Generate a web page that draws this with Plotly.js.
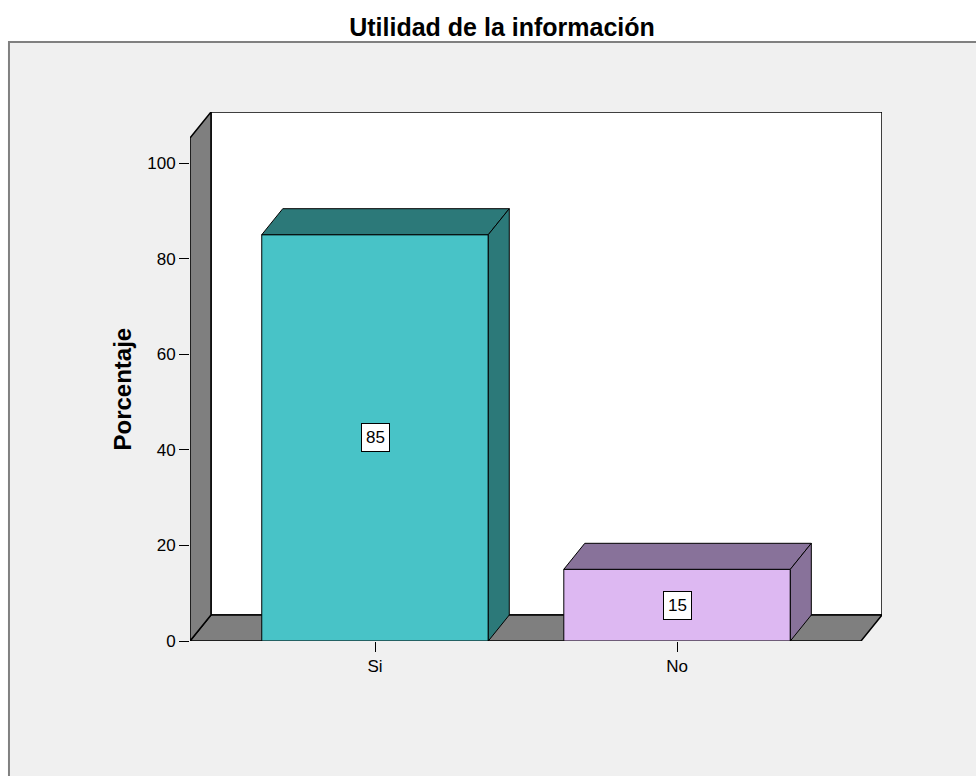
<!DOCTYPE html>
<html>
<head>
<meta charset="utf-8">
<script src="https://cdn.plot.ly/plotly-3.0.1.min.js"></script>
<style>
  html, body { margin: 0; padding: 0; background: #ffffff; }
  #chart { width: 976px; height: 776px; }
</style>
</head>
<body>
<div id="chart"></div>
<script>
// Categories and their percentages
const categories = ['Si', 'No'];
const porcentajes = [85, 15];
const yTickValues = [0, 20, 40, 60, 80, 100];

// Face colours per bar: front face and the darker top / side faces
const frontColors = ['#48c3c7', '#ddb8f2'];
const shadeColors = ['#2c7979', '#88729a'];

// Pseudo-3D depth, in axis units
const DEPTH_X = 0.0695;
const DEPTH_Y = 5.44;
const BAR_WIDTH = 0.75;
const X_LEFT = -0.6126;
const X_FLOOR_RIGHT = 1.609;
const WALL_TOP = 105.23;

const FONT = 'Liberation Sans, Arial, sans-serif';
const xIdx = categories.map((_, i) => i);

function poly(pts) {
  return 'M' + pts.map(p => p[0] + ',' + p[1]).join('L') + 'Z';
}

const shapes = [];

// grey chart frame
shapes.push({
  type: 'rect', xref: 'paper', yref: 'paper', layer: 'below',
  x0: -0.2616, x1: 1.2, y0: -0.3, y1: 1.1323,
  fillcolor: '#f0f0f0', line: {color: '#808080', width: 2}
});

// back wall
shapes.push({
  type: 'path', xref: 'x', yref: 'y', layer: 'below',
  path: poly([[X_LEFT + DEPTH_X, DEPTH_Y], [X_FLOOR_RIGHT + DEPTH_X, DEPTH_Y],
              [X_FLOOR_RIGHT + DEPTH_X, WALL_TOP + DEPTH_Y], [X_LEFT + DEPTH_X, WALL_TOP + DEPTH_Y]]),
  fillcolor: '#ffffff', line: {color: '#000000', width: 1.5}
});
// floor
shapes.push({
  type: 'path', xref: 'x', yref: 'y', layer: 'below',
  path: poly([[X_LEFT, 0], [X_FLOOR_RIGHT, 0],
              [X_FLOOR_RIGHT + DEPTH_X, DEPTH_Y], [X_LEFT + DEPTH_X, DEPTH_Y]]),
  fillcolor: '#7f7f7f', line: {color: '#000000', width: 1.5}
});
// left wall
shapes.push({
  type: 'path', xref: 'x', yref: 'y', layer: 'below',
  path: poly([[X_LEFT, 0], [X_LEFT, WALL_TOP],
              [X_LEFT + DEPTH_X, WALL_TOP + DEPTH_Y], [X_LEFT + DEPTH_X, DEPTH_Y]]),
  fillcolor: '#7f7f7f', line: {color: '#000000', width: 1.5}
});

// top and side faces of each bar
porcentajes.forEach((v, i) => {
  const l = xIdx[i] - BAR_WIDTH / 2;
  const r = xIdx[i] + BAR_WIDTH / 2;
  shapes.push({
    type: 'path', xref: 'x', yref: 'y',
    path: poly([[l, v], [r, v], [r + DEPTH_X, v + DEPTH_Y], [l + DEPTH_X, v + DEPTH_Y]]),
    fillcolor: shadeColors[i], line: {color: '#000000', width: 1}
  });
  shapes.push({
    type: 'path', xref: 'x', yref: 'y',
    path: poly([[r, 0], [r, v], [r + DEPTH_X, v + DEPTH_Y], [r + DEPTH_X, DEPTH_Y]]),
    fillcolor: shadeColors[i], line: {color: '#000000', width: 1}
  });
});

const annotations = porcentajes.map((v, i) => ({
  x: xIdx[i], y: v / 2, xref: 'x', yref: 'y',
  text: String(v), showarrow: false,
  bgcolor: '#ffffff', bordercolor: '#000000', borderwidth: 1, borderpad: 4,
  font: {family: FONT, size: 17, color: '#000000'}
}));

annotations.push({
  xref: 'paper', x: 0, xshift: -68, xanchor: 'center',
  yref: 'y', y: WALL_TOP / 2, yanchor: 'middle',
  text: 'Porcentaje', textangle: -90, showarrow: false,
  font: {family: FONT, size: 24, color: '#000000', weight: 'bold'}
});

const data = [{
  type: 'bar',
  x: xIdx,
  y: porcentajes,
  width: BAR_WIDTH,
  marker: {color: frontColors, line: {color: '#000000', width: 1}},
  hoverinfo: 'none'
}];

const layout = {
  width: 976, height: 776,
  margin: {l: 190, r: 94, t: 112, b: 135, pad: 0},
  paper_bgcolor: '#ffffff',
  plot_bgcolor: 'rgba(0,0,0,0)',
  showlegend: false,
  title: {
    text: 'Utilidad de la información',
    xref: 'container', x: 502 / 976, xanchor: 'center',
    yref: 'container', y: 1 - 27 / 776, yanchor: 'middle',
    font: {family: FONT, size: 25, color: '#000000', weight: 'bold'}
  },
  xaxis: {
    range: [X_LEFT, X_FLOOR_RIGHT + DEPTH_X],
    tickvals: xIdx, ticktext: categories,
    ticks: 'outside', ticklen: 10, tickwidth: 1, tickcolor: '#000000',
    showgrid: false, zeroline: false, showline: false,
    tickfont: {family: FONT, size: 17, color: '#000000'},
    fixedrange: true
  },
  yaxis: {
    range: [0, WALL_TOP + DEPTH_Y],
    tickvals: yTickValues,
    ticks: 'outside', ticklen: 10, tickwidth: 1, tickcolor: '#000000',
    showgrid: false, zeroline: false, showline: false,
    tickfont: {family: FONT, size: 17, color: '#000000'},
    fixedrange: true
  },
  shapes: shapes,
  annotations: annotations
};

Plotly.newPlot('chart', data, layout, {displayModeBar: false, staticPlot: true});
</script>
</body>
</html>
